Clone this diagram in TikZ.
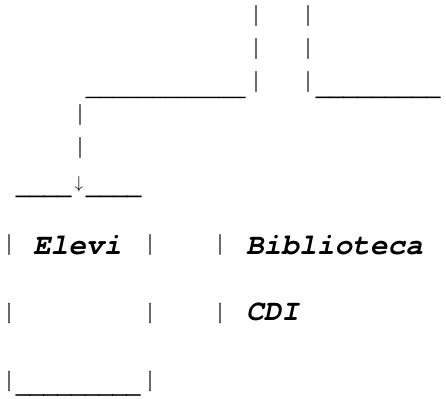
\documentclass[tikz,border=0pt]{standalone}
\usepackage{fontspec}
\setmonofont{TeX Gyre Cursor}
\newfontfamily\barfont[FakeBold=1.2]{TeX Gyre Cursor}
\newcommand\tallbar{\scalebox{1}[1.18]{|}}
\begin{document}
\begin{tikzpicture}[x=1pt,y=-1pt,
  glyph/.style={inner sep=0pt,outer sep=0pt,font=\fontsize{23}{23}\selectfont\barfont},
  bar/.style={glyph,anchor=center},
  rule/.style={glyph,anchor=south west},
  widerule/.style={rule,font=\fontsize{22.1}{22.1}\selectfont\barfont},
  arrowglyph/.style={inner sep=0pt,outer sep=0pt,anchor=center,font=\fontsize{18}{18}\selectfont},
  boxlabel/.style={inner sep=0pt,outer sep=0pt,anchor=base west,font=\fontsize{29.5}{29.5}\selectfont\ttfamily\bfseries\itshape}]
\useasboundingbox (0,0) rectangle (446,398);
% rows 1-3: the two vertical strokes at the top
\node[bar] (r1a) at (256,15.5) {\tallbar};
\node[bar] (r1b) at (308,15.5) {\tallbar};
\node[bar] (r2a) at (256,48.5) {\tallbar};
\node[bar] (r2b) at (308,48.5) {\tallbar};
\node[bar] (r3a) at (256,81.5) {\tallbar};
\node[bar] (r3b) at (308,81.5) {\tallbar};
\node[widerule] (r3l) at (86,98) {\_\_\_\_\_\_\_\_\_\_\_\_};
\node[rule] (r3r) at (316,98) {\_\_\_\_\_\_\_\_\_};
% rows 4-5: left descent
\node[bar] (r4) at (80,114.5) {\tallbar};
\node[bar] (r5) at (80,147.5) {\tallbar};
% row 6: arrow into the box
\node[rule] (r6l) at (16,197) {\_\_\_\_};
\node[arrowglyph] (r6a) at (79,184.5) {$\downarrow$};
\node[rule] (r6r) at (86,197) {\_\_\_\_};
% row 7
\node[bar] (r7a) at (9,244.5) {\tallbar};
\node[boxlabel] (elevi) at (33,254) {Elevi};
\node[bar] (r7b) at (150,244.5) {\tallbar};
\node[bar] (r7c) at (220,244.5) {\tallbar};
\node[boxlabel] (bib) at (246,254) {Biblioteca};
% row 8
\node[bar] (r8a) at (9,313) {\tallbar};
\node[bar] (r8b) at (150,313) {\tallbar};
\node[bar] (r8c) at (220,313) {\tallbar};
\node[boxlabel] (cdi) at (246,320) {CDI};
% row 9
\node[bar] (r9a) at (9,381) {\tallbar};
\node[rule] (r9m) at (16,395.5) {\_\_\_\_\_\_\_\_\_};
\node[bar] (r9b) at (150,381) {\tallbar};
\end{tikzpicture}
\end{document}
